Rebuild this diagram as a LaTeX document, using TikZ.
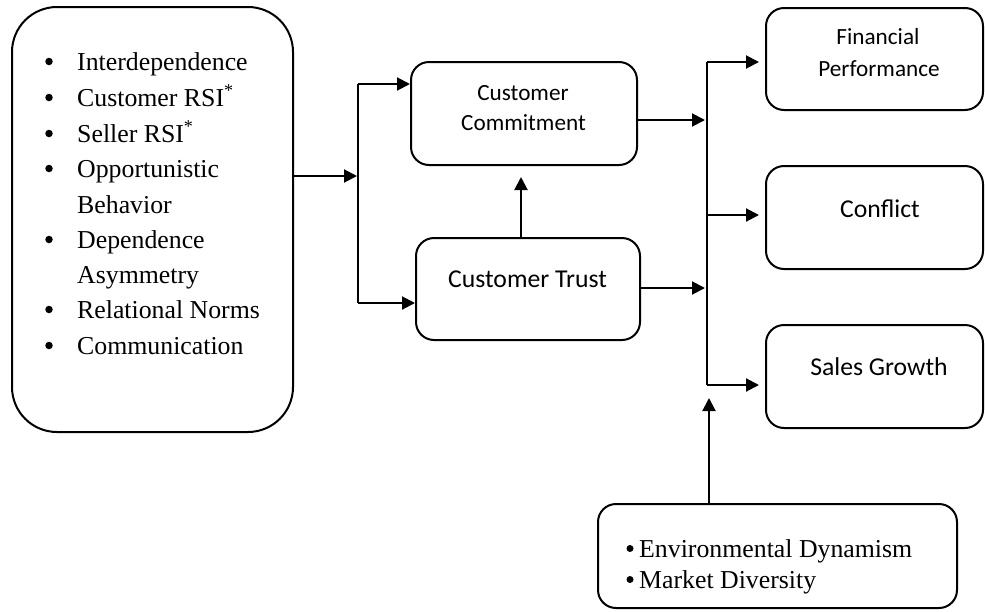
\documentclass[tikz,border=0pt]{standalone}
\usepackage{fontspec}
\setmainfont{Liberation Serif}
\newfontfamily\calibfont{Carlito}
\usetikzlibrary{arrows.meta}
\begin{document}
\begin{tikzpicture}[x=1pt,y=-1pt,
  box/.style={draw, line width=2pt, rounded corners=18pt, inner sep=0pt, outer sep=0pt},
  arr/.style={line width=2pt, -{Triangle[length=13pt,width=13pt]}},
  bus/.style={line width=1.4pt},
  serif/.style={inner sep=0pt, anchor=base west, font=\fontsize{25.8}{30}\selectfont},
  sansA/.style={inner sep=0pt, anchor=base, font=\calibfont\fontsize{23.2}{28}\selectfont},
  sansB/.style={inner sep=0pt, anchor=base, font=\calibfont\fontsize{25.7}{30}\selectfont},
  dot/.style={circle, fill, inner sep=0pt, minimum size=7.5pt}]
\useasboundingbox (0,0) rectangle (985,611);

% boxes
\node[box, rounded corners=45pt, minimum width=281pt, minimum height=425pt] (drivers) at (152.5,219.5) {};
\node[box, minimum width=226pt, minimum height=103pt] (commit) at (524,113.5) {};
\node[box, minimum width=224pt, minimum height=102pt] (trust) at (528,289) {};
\node[box, minimum width=217pt, minimum height=102pt] (fin) at (874.5,59) {};
\node[box, minimum width=217pt, minimum height=103pt] (confl) at (874.5,217.5) {};
\node[box, minimum width=217pt, minimum height=103pt] (sales) at (874.5,376.5) {};
\node[box, minimum width=359pt, minimum height=104pt] (env) at (777.5,556) {};

% driver list
\foreach \yb/\txt/\hasdot [count=\i] in {
  70/Interdependence/1,
  106/Customer RSI\textsuperscript{*}/1,
  142/Seller RSI\textsuperscript{*}/1,
  177/Opportunistic/1,
  213/Behavior/0,
  248/Dependence/1,
  283/Asymmetry/0,
  318/Relational Norms/1,
  354/Communication/1} {
  \node[serif] (drv\i) at (77,\yb) {\txt};
  \ifnum\hasdot=1 \node[dot] (drvdot\i) at (49,\yb-8.5) {}; \fi
}

% moderator list
\node[dot, minimum size=7pt] (envdot1) at (630,548.5) {};
\node[serif] (env1) at (639,557) {Environmental Dynamism};
\node[dot, minimum size=7pt] (envdot2) at (630,579.5) {};
\node[serif] (env2) at (639,588) {Market Diversity};

% box labels
\node[sansA] (commitA) at (523,100) {Customer};
\node[sansA] (commitB) at (523.5,130) {Commitment};
\node[sansB] (trustT) at (527.5,287) {Customer Trust};
\node[sansA] (finA) at (878,44) {Financial};
\node[sansA] (finB) at (879,76) {Performance};
\node[sansB] (conflT) at (880,217) {Conflict};
\node[sansB] (salesT) at (879,375) {Sales Growth};

% left fork
\coordinate (j1) at (358,176);
\coordinate (j1top) at (358,84);
\coordinate (j1bot) at (358,303);
\draw[arr, shorten >=1pt] (drivers.east |- j1) -- (j1);
\draw[bus] (j1top) -- (j1bot);
\draw[arr, shorten >=1pt] (j1top) -- (commit.west |- j1top);
\draw[arr, shorten >=1pt] (j1bot) -- (trust.west |- j1bot);

% trust to commitment
\coordinate (tc) at (521,200);
\draw[arr, shorten >=12pt] (trust.north -| tc) -- (commit.south -| tc);

% right bus
\coordinate (r1) at (707,62);
\coordinate (rc) at (707,215);
\coordinate (r2) at (707,385);
\coordinate (cj) at (707,120);
\coordinate (tj) at (707,288);
\draw[bus] (r1) -- (r2);
\draw[arr, shorten >=2pt] (commit.east |- cj) -- (cj);
\draw[arr, shorten >=2pt] (trust.east |- tj) -- (tj);
\draw[arr, shorten >=7pt] (r1) -- (fin.west |- r1);
\draw[arr, shorten >=7pt] (rc) -- (confl.west |- rc);
\draw[arr, shorten >=7pt] (r2) -- (sales.west |- r2);

% moderator arrow
\coordinate (ej) at (709,385);
\draw[arr, shorten >=13pt] (env.north -| ej) -- (ej);
\end{tikzpicture}
\end{document}
